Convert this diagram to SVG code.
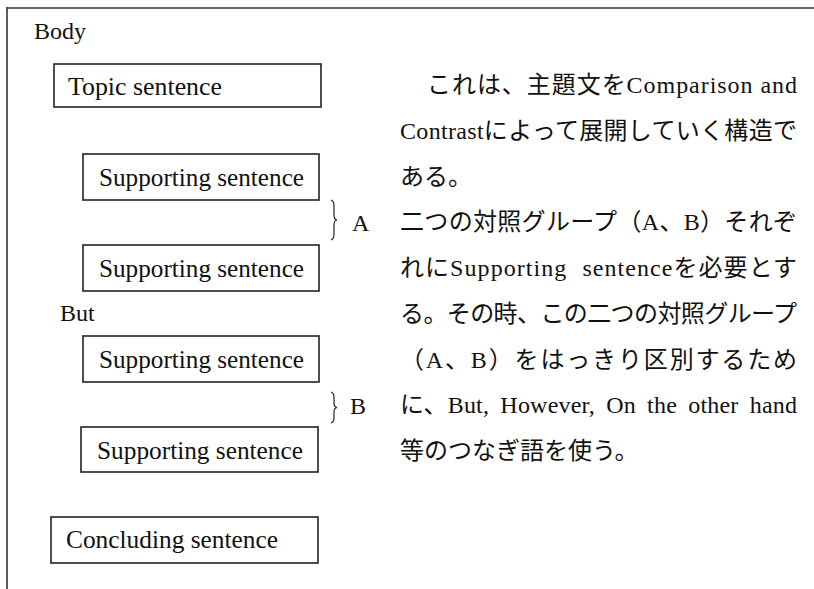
<svg xmlns="http://www.w3.org/2000/svg" width="814" height="589" viewBox="0 0 814 589">
<style>
.bx{fill:none;stroke:#222;stroke-width:1.6}
.t{font-family:"Liberation Serif","Noto Sans CJK JP",serif;font-size:24px;fill:#111}
.b{font-family:"Liberation Serif",serif;font-size:26px;fill:#111}
.j{font-family:"Liberation Serif","Noto Sans CJK JP",serif;font-size:24px;fill:#111}
.br{fill:none;stroke:#222;stroke-width:1.2}
</style>
<rect width="814" height="589" fill="#fff"/>
<g id="frame">
<line x1="7" y1="8" x2="814" y2="8" stroke="#333" stroke-width="1.6"/>
<line x1="7" y1="7" x2="7" y2="589" stroke="#333" stroke-width="1.6"/>
</g>
<g id="body-label"><text class="t" x="34" y="39" font-size="25">Body</text></g>
<g id="topic"><rect class="bx" x="54" y="64" width="267" height="43"/><text class="b" x="68" y="95" textLength="154" lengthAdjust="spacingAndGlyphs">Topic sentence</text></g>
<g id="sup1"><rect class="bx" x="83" y="154" width="236" height="46"/><text class="b" x="99" y="186" textLength="205" lengthAdjust="spacingAndGlyphs">Supporting sentence</text></g>
<g id="sup2"><rect class="bx" x="83" y="245" width="236" height="46"/><text class="b" x="99" y="277" textLength="205" lengthAdjust="spacingAndGlyphs">Supporting sentence</text></g>
<g id="but"><text class="t" x="60" y="321">But</text></g>
<g id="sup3"><rect class="bx" x="83" y="336" width="236" height="46"/><text class="b" x="99" y="368" textLength="205" lengthAdjust="spacingAndGlyphs">Supporting sentence</text></g>
<g id="sup4"><rect class="bx" x="81" y="427" width="237" height="45"/><text class="b" x="97" y="459" textLength="206" lengthAdjust="spacingAndGlyphs">Supporting sentence</text></g>
<g id="concluding"><rect class="bx" x="51" y="517" width="267" height="46"/><text class="b" x="66" y="548" textLength="212" lengthAdjust="spacingAndGlyphs">Concluding sentence</text></g>
<g id="connectors">
<path class="br" d="M331,200 Q334,201 334,206 L334,215 Q334,219.5 337,220 Q334,220.5 334,225 L334,234 Q334,239 331,240"/>
<path class="br" d="M331,392 Q334,393 334,397 L334,403 Q334,407 337,407.5 Q334,408 334,412 L334,418 Q334,422 331,423"/>
</g>
<g id="label-a"><text class="t" x="352" y="231">A</text></g>
<g id="label-b"><text class="t" x="350" y="414">B</text></g>
<g id="description">
<text class="j" x="427" y="93" textLength="370" lengthAdjust="spacing">これは、主題文をComparison and</text>
<text class="j" x="400" y="138.5" textLength="397" lengthAdjust="spacing">Contrastによって展開していく構造で</text>
<text class="j" x="400" y="184.5">ある。</text>
<text class="j" x="400" y="230" textLength="397" lengthAdjust="spacing">二つの対照グループ（A、B）それぞ</text>
<text class="j" x="400" y="276" word-spacing="8" textLength="397" lengthAdjust="spacing">れにSupporting sentenceを必要とす</text>
<text class="j" x="400" y="321.5" textLength="397" lengthAdjust="spacing">る。その時、この二つの対照グループ</text>
<text class="j" x="400" y="367.5" textLength="397" lengthAdjust="spacing">（A、B）をはっきり区別するため</text>
<text class="j" x="400" y="413" word-spacing="5" textLength="397" lengthAdjust="spacing">に、But, However, On the other hand</text>
<text class="j" x="400" y="459">等のつなぎ語を使う。</text>
</g>
</svg>
